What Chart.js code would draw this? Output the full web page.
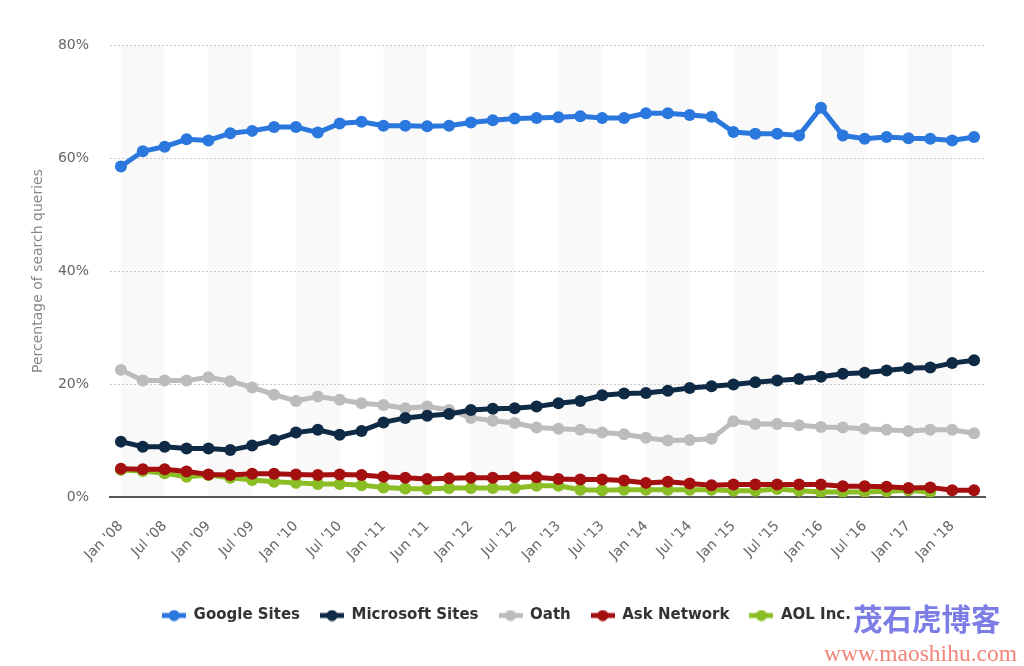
<!DOCTYPE html>
<html>
<head>
<meta charset="utf-8">
<script src="https://cdn.jsdelivr.net/npm/chart.js@4"></script>
<style>
  html, body { margin: 0; padding: 0; background: #fff; }
  #wrap { position: relative; width: 1024px; height: 666px; }
  #wm1 { position: absolute; left: 853px; top: 598px; font-family: "Noto Sans CJK SC", sans-serif; font-size: 29.5px; font-weight: 700; color: #7d7de6; letter-spacing: 0px; line-height: 38px; }
  #wm2 { position: absolute; left: 824px; top: 640px; font-family: "Liberation Serif", serif; font-size: 23.5px; color: #f2857a; line-height: 26px; }
</style>
</head>
<body>
<div id="wrap">
  <canvas id="c" width="1024" height="666"></canvas>
  <div id="wm1">茂石虎博客</div>
  <div id="wm2">www.maoshihu.com</div>
</div>
<script>
const categories = ["Jan '08","Apr '08","Jul '08","Oct '08","Jan '09","Apr '09","Jul '09","Oct '09",
  "Jan '10","Apr '10","Jul '10","Oct '10","Jan '11","Mar '11","Jun '11","Sep '11",
  "Jan '12","Apr '12","Jul '12","Oct '12","Jan '13","Apr '13","Jul '13","Oct '13",
  "Jan '14","Apr '14","Jul '14","Oct '14","Jan '15","Apr '15","Jul '15","Oct '15",
  "Jan '16","Apr '16","Jul '16","Oct '16","Jan '17","Jul '17","Jan '18","Apr '18"];

const googleSites = [58.5,61.2,62.0,63.3,63.1,64.4,64.8,65.5,65.5,64.5,66.1,66.4,65.7,65.7,65.6,65.7,
  66.3,66.7,67.0,67.1,67.2,67.4,67.1,67.1,67.9,67.9,67.6,67.3,64.6,64.3,64.3,64.0,
  68.9,64.0,63.4,63.7,63.5,63.4,63.1,63.7];
const microsoftSites = [9.8,8.9,8.9,8.6,8.6,8.3,9.1,10.1,11.4,11.9,11.0,11.7,13.2,14.0,14.4,14.7,
  15.4,15.6,15.7,16.0,16.6,17.0,18.0,18.3,18.4,18.8,19.3,19.6,19.9,20.3,20.6,20.9,
  21.3,21.8,22.0,22.4,22.8,22.9,23.7,24.2];
const oath = [22.5,20.6,20.6,20.6,21.2,20.5,19.4,18.1,17.0,17.8,17.2,16.6,16.3,15.7,16.0,15.4,
  14.0,13.5,13.1,12.3,12.1,11.9,11.4,11.1,10.5,10.0,10.1,10.3,13.4,12.9,12.9,12.7,
  12.4,12.3,12.1,11.9,11.7,11.9,11.9,11.3];
const askNetwork = [5.0,4.9,4.9,4.5,4.0,3.9,4.1,4.1,4.0,3.9,4.0,3.9,3.6,3.4,3.2,3.3,
  3.4,3.4,3.5,3.5,3.2,3.1,3.1,2.9,2.5,2.7,2.4,2.1,2.2,2.2,2.2,2.2,
  2.2,1.9,1.9,1.8,1.6,1.7,1.2,1.2];
const aolInc = [4.8,4.6,4.2,3.6,3.9,3.4,3.0,2.7,2.5,2.3,2.3,2.1,1.7,1.5,1.4,1.6,
  1.6,1.6,1.6,2.0,2.0,1.3,1.2,1.3,1.3,1.3,1.3,1.3,1.1,1.1,1.4,1.1,
  0.9,0.9,0.9,1.0,1.2,0.9];
const yTicks = [0,20,40,60,80];

const seriesNames = ["Google Sites","Microsoft Sites","Oath","Ask Network","AOL Inc."];
const seriesColors = ["#2a77de","#0f2a44","#bcbcbc","#a40f0f","#8bbd24"];
const seriesData = [googleSites, microsoftSites, oath, askNetwork, aolInc];

function legendMarker(color) {
  const c = document.createElement('canvas');
  c.width = 24; c.height = 12;
  const g = c.getContext('2d');
  g.strokeStyle = color; g.lineWidth = 5;
  g.beginPath(); g.moveTo(0, 6); g.lineTo(24, 6); g.stroke();
  g.fillStyle = color;
  g.beginPath(); g.arc(12, 6, 5.5, 0, Math.PI * 2); g.fill();
  return c;
}
const markers = seriesColors.map(legendMarker);

const bandPlugin = {
  id: 'bands',
  beforeDraw(chart) {
    const {ctx, chartArea, scales} = chart;
    const x = scales.x;
    ctx.save();
    ctx.fillStyle = '#f9f9f9';
    for (let i = 0; i + 2 < categories.length; i += 4) {
      const x0 = x.getPixelForValue(i);
      const x1 = x.getPixelForValue(i + 2);
      ctx.fillRect(x0, chartArea.top, x1 - x0, chartArea.bottom - chartArea.top);
    }
    ctx.restore();
  }
};

Chart.defaults.font.family = '"DejaVu Sans", "Open Sans", sans-serif';

new Chart(document.getElementById('c'), {
  type: 'line',
  data: {
    labels: categories,
    datasets: seriesNames.map((n, i) => ({
      label: n,
      data: seriesData[i],
      borderColor: seriesColors[i],
      backgroundColor: seriesColors[i],
      borderWidth: 5,
      pointRadius: 6,
      pointHoverRadius: 6,
      pointBorderWidth: 0,
      tension: 0,
      fill: false
    }))
  },
  options: {
    responsive: false,
    animation: false,
    layout: { padding: { top: 45, right: 39, bottom: 33, left: 28 } },
    plugins: {
      tooltip: { enabled: false },
      legend: {
        position: 'bottom',
        labels: {
          usePointStyle: true,
          pointStyleWidth: 24,
          padding: 20,
          color: '#333',
          font: { size: 15, weight: 'bold' },
          generateLabels(chart) {
            return chart.data.datasets.map((d, i) => ({
              text: d.label,
              pointStyle: markers[i],
              fillStyle: d.borderColor,
              strokeStyle: d.borderColor,
              lineWidth: 0,
              hidden: false,
              datasetIndex: i,
              fontColor: '#333'
            }));
          }
        }
      }
    },
    scales: {
      x: {
        offset: true,
        afterFit(s) { s.height = 91; },
        grid: { display: false, drawTicks: false },
        border: { display: true, color: '#555', width: 2 },
        ticks: {
          autoSkip: false,
          minRotation: 45,
          maxRotation: 45,
          padding: 21,
          color: '#666',
          font: { size: 14 },
          callback(v, i) { return i % 2 === 0 ? categories[i] : ''; }
        }
      },
      y: {
        min: 0,
        max: 80,
        afterBuildTicks(s) { s.ticks = yTicks.map(v => ({ value: v })); },
        afterFit(s) { s.width = 82; },
        border: { display: false, dash: [2, 2] },
        grid: {
          drawTicks: false,
          color: (c) => c.tick && c.tick.value === 0 ? 'rgba(0,0,0,0)' : '#c8c8c8',
          lineWidth: 1
        },
        ticks: {
          padding: 21,
          color: '#666',
          font: { size: 14 },
          callback(v) { return v + '%'; }
        },
        title: {
          display: true,
          text: 'Percentage of search queries',
          color: '#888',
          font: { size: 14 },
          padding: { top: 2, bottom: 0 }
        }
      }
    }
  },
  plugins: [bandPlugin]
});
</script>
</body>
</html>
